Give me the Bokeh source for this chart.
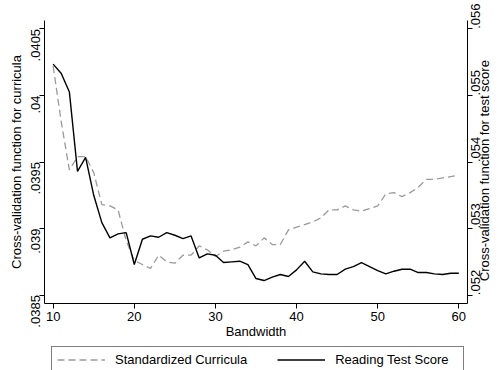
import math
from bokeh.plotting import figure
from bokeh.layouts import column
from bokeh.models import Range1d, LinearAxis, FixedTicker, Legend, LegendItem
from bokeh.embed import file_html
from bokeh.resources import INLINE

bandwidth = [10, 11, 12, 13, 14, 15, 16, 17, 18, 19,
             20, 21, 22, 23, 24, 25, 26, 27, 28, 29,
             30, 31, 32, 33, 34, 35, 36, 37, 38, 39,
             40, 41, 42, 43, 44, 45, 46, 47, 48, 49,
             50, 51, 52, 53, 54, 55, 56, 57, 58, 59, 60]

curricula_cv = [0.04022, 0.03980, 0.03944, 0.03954, 0.03954, 0.03942, 0.03918, 0.03917, 0.03914, 0.03891,
                0.03876, 0.03873, 0.03870, 0.03880, 0.03875, 0.03874, 0.03880, 0.03880, 0.03887, 0.03884,
                0.03879, 0.03883, 0.03884, 0.03886, 0.03890, 0.03887, 0.03893, 0.03888, 0.03888, 0.03899,
                0.03901, 0.03903, 0.03905, 0.03908, 0.03914, 0.03914, 0.03917, 0.03914, 0.03913, 0.03915,
                0.03917, 0.03926, 0.03927, 0.03924, 0.03927, 0.03931, 0.03937, 0.03937, 0.03938, 0.03939, 0.03940]

reading_cv = [0.05547, 0.05533, 0.05505, 0.05386, 0.05407, 0.05350, 0.05309, 0.05286, 0.05292, 0.05294,
              0.05246, 0.05284, 0.05289, 0.05287, 0.05294, 0.05290, 0.05285, 0.05289, 0.05256, 0.05262,
              0.05260, 0.05249, 0.05250, 0.05251, 0.05246, 0.05225, 0.05222, 0.05227, 0.05231, 0.05228,
              0.05238, 0.05251, 0.05235, 0.05232, 0.05231, 0.05231, 0.05239, 0.05243, 0.05249, 0.05243,
              0.05237, 0.05232, 0.05236, 0.05239, 0.05239, 0.05234, 0.05234, 0.05232, 0.05231, 0.05233, 0.05233]

x_ticks = [10, 20, 30, 40, 50, 60]
left_ticks = [0.0385, 0.039, 0.0395, 0.04, 0.0405]
left_tick_labels = [".0385", ".039", ".0395", ".04", ".0405"]
right_ticks = [0.052, 0.053, 0.054, 0.055, 0.056]
right_tick_labels = [".052", ".053", ".054", ".055", ".056"]

series_names = ["Standardized Curricula", "Reading Test Score"]
x_title = "Bandwidth"
left_title = "Cross-validation function for curricula"
right_title = "Cross-validation function for test score"
right_title_at = 0.054  # position of the right title along the right axis

FONT = "Liberation Sans"
FS = "13px"
DASH_COLOR = "#9a9a9a"

p = figure(width=502, height=346, output_backend="svg", toolbar_location=None,
           x_range=Range1d(8.932, 61.068), y_range=Range1d(0.038437, 0.040563),
           min_border_left=44, min_border_right=33, min_border_top=20, min_border_bottom=43)
p.extra_y_ranges = {"right": Range1d(0.051875, 0.056125)}
p.xgrid.visible = False
p.ygrid.visible = False
p.outline_line_color = None
p.background_fill_color = "white"
p.border_fill_color = "white"

r1 = p.line(bandwidth, curricula_cv, line_color=DASH_COLOR, line_width=1.3, line_dash="7 4")
r2 = p.line(bandwidth, reading_cv, line_color="black", line_width=1.4, y_range_name="right")

right_axis = LinearAxis(y_range_name="right")
p.add_layout(right_axis, "right")
right_title_axis = LinearAxis(y_range_name="right")
p.add_layout(right_title_axis, "right")


def style(ax):
    ax.axis_line_color = "black"
    ax.axis_line_width = 1
    ax.major_tick_line_color = "black"
    ax.major_tick_in = 0
    ax.major_tick_out = 5
    ax.minor_tick_line_color = None
    ax.major_label_text_font = FONT
    ax.major_label_text_font_size = FS
    ax.major_label_text_color = "black"
    ax.axis_label_text_font = FONT
    ax.axis_label_text_font_size = FS
    ax.axis_label_text_font_style = "normal"
    ax.axis_label_text_color = "black"


xa = p.xaxis[0]
style(xa)
xa.ticker = FixedTicker(ticks=x_ticks)
xa.axis_label = x_title
xa.major_label_standoff = 3
xa.axis_label_standoff = 0

la = p.yaxis[0]
style(la)
la.ticker = FixedTicker(ticks=left_ticks)
la.major_label_overrides = dict(zip(left_ticks, left_tick_labels))
la.major_label_orientation = math.pi / 2
la.axis_label = left_title
la.major_label_standoff = 4
la.axis_label_standoff = 0

style(right_axis)
right_axis.ticker = FixedTicker(ticks=right_ticks)
right_axis.major_label_overrides = dict(zip(right_ticks, right_tick_labels))
right_axis.major_label_orientation = math.pi / 2
right_axis.major_label_standoff = 3

# right-hand title drawn as a single, centred, upward-reading label
style(right_title_axis)
right_title_axis.axis_line_color = None
right_title_axis.major_tick_line_color = None
right_title_axis.major_tick_out = 0
right_title_axis.ticker = FixedTicker(ticks=[right_title_at])
right_title_axis.major_label_overrides = {right_title_at: right_title}
right_title_axis.major_label_orientation = math.pi / 2
right_title_axis.major_label_standoff = -3

# legend strip below the chart
leg_fig = figure(width=502, height=24, output_backend="svg", toolbar_location=None,
                 x_axis_location=None, y_axis_location=None, min_border=0,
                 x_range=Range1d(0, 1), y_range=Range1d(0, 1))
leg_fig.xgrid.visible = False
leg_fig.ygrid.visible = False
leg_fig.outline_line_color = None
leg_fig.background_fill_color = "white"
leg_fig.border_fill_color = "white"
l1 = leg_fig.line(bandwidth, curricula_cv, line_color=DASH_COLOR, line_width=1.3, line_dash="7 4")
l2 = leg_fig.line(bandwidth, reading_cv, line_color="black", line_width=1.4)

legend = Legend(items=[LegendItem(label=series_names[0], renderers=[l1]),
                       LegendItem(label=series_names[1], renderers=[l2])],
                orientation="horizontal", location=(7, -3))
legend.glyph_width = 48
legend.glyph_height = 15
legend.label_height = 15
legend.label_width = 123
legend.label_standoff = 10
legend.spacing = 30
legend.padding = 5
legend.margin = 0
legend.label_text_font = FONT
legend.label_text_font_size = FS
legend.label_text_color = "black"
legend.border_line_color = "black"
legend.border_line_width = 1
legend.background_fill_color = "white"
legend.background_fill_alpha = 1
leg_fig.add_layout(legend, "center")

layout = column(p, leg_fig, spacing=0)
open("out.html", "w").write(file_html(layout, INLINE))
